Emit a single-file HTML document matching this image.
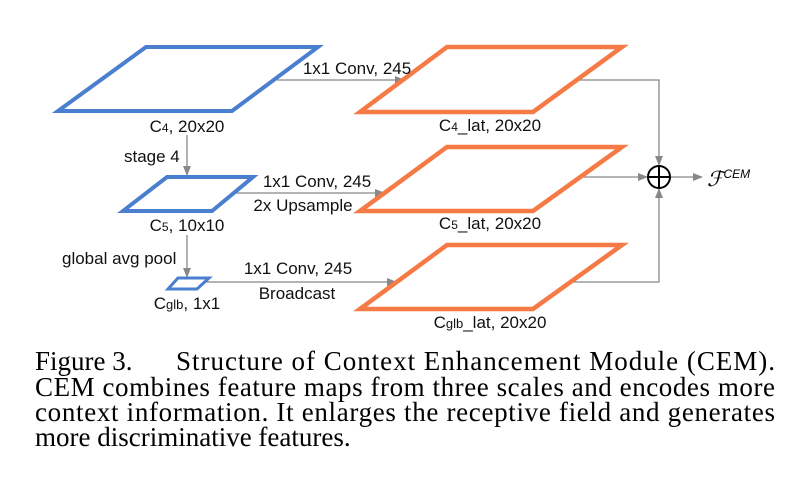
<!DOCTYPE html>
<html><head><meta charset="utf-8"><style>
html,body{margin:0;padding:0;background:#fff;width:800px;height:493px;overflow:hidden}
svg{display:block}
.s{font-family:"Liberation Sans",sans-serif;font-size:17px;fill:#111}
.c{font-family:"Liberation Serif",serif;font-size:27px;fill:#000}
</style></head><body>
<svg width="800" height="493" viewBox="0 0 800 493" xmlns="http://www.w3.org/2000/svg">
<defs><marker id="a" markerWidth="10" markerHeight="8" refX="9" refY="4" orient="auto" markerUnits="userSpaceOnUse"><path d="M0,0 L10,4 L0,8 z" fill="#888"/></marker></defs>
<g stroke="#888" stroke-width="1.3" fill="none">
<line x1="277" y1="80" x2="404" y2="80" marker-end="url(#a)"/>
<line x1="187" y1="135" x2="187" y2="175" marker-end="url(#a)"/>
<line x1="235" y1="193" x2="384" y2="193" marker-end="url(#a)"/>
<line x1="187" y1="235" x2="187" y2="277" marker-end="url(#a)"/>
<line x1="203" y1="282" x2="396" y2="282" marker-end="url(#a)"/>
<polyline points="577,80 659,80 659,165" marker-end="url(#a)"/>
<line x1="580" y1="177" x2="647" y2="177" marker-end="url(#a)"/>
<polyline points="570,282 659,282 659,189" marker-end="url(#a)"/>
<line x1="671" y1="177" x2="702" y2="177" marker-end="url(#a)"/>
</g>
<g fill="none" stroke="#4a7fd0" stroke-width="4" stroke-linejoin="miter">
<polygon points="146,47 318,47 232,111 58,111"/>
<polygon points="167,177 253,177 212,211 123,211"/>
<polygon points="178,278 209,278 197,289 168,289" stroke-width="3"/>
</g>
<g fill="none" stroke="#f57a45" stroke-width="4.5">
<polygon points="447,47 622,47 533,112 360,112"/>
<polygon points="447,147 622,147 533,211 360,211"/>
<polygon points="447,245 622,245 533,309 360,309"/>
</g>
<circle cx="659" cy="177" r="11" fill="none" stroke="#000" stroke-width="2"/>
<line x1="648" y1="177" x2="670" y2="177" stroke="#000" stroke-width="2"/>
<line x1="659" y1="166" x2="659" y2="188" stroke="#000" stroke-width="2"/>
<g class="s">
<text x="357" y="74" text-anchor="middle">1x1 Conv, 245</text>
<text x="187" y="132" text-anchor="middle">C<tspan font-size="12">4</tspan>, 20x20</text>
<text x="124" y="162">stage 4</text>
<text x="317" y="187" text-anchor="middle">1x1 Conv, 245</text>
<text x="303" y="211" text-anchor="middle">2x Upsample</text>
<text x="187" y="231" text-anchor="middle">C<tspan font-size="12">5</tspan>, 10x10</text>
<text x="62" y="264">global avg pool</text>
<text x="298" y="274" text-anchor="middle">1x1 Conv, 245</text>
<text x="297" y="299" text-anchor="middle">Broadcast</text>
<text x="187" y="309" text-anchor="middle">C<tspan font-size="13">glb</tspan>, 1x1</text>
<text x="490" y="131" text-anchor="middle">C<tspan font-size="12">4</tspan>_lat, 20x20</text>
<text x="490" y="229" text-anchor="middle">C<tspan font-size="12">5</tspan>_lat, 20x20</text>
<text x="490" y="328" text-anchor="middle">C<tspan font-size="13">glb</tspan>_lat, 20x20</text>
</g>
<text x="707" y="186" font-family="Liberation Serif,serif" font-style="italic" font-size="21">ℱ<tspan font-family="Liberation Sans,sans-serif" font-size="12" dy="-8">CEM</tspan></text>
<g class="c">
<text x="35" y="370">Figure 3.</text>
<text x="176" y="370" textLength="599" lengthAdjust="spacing">Structure of Context Enhancement Module (CEM).</text>
<text x="35" y="396" textLength="740" lengthAdjust="spacing">CEM combines feature maps from three scales and encodes more</text>
<text x="35" y="421" textLength="740" lengthAdjust="spacing">context information. It enlarges the receptive field and generates</text>
<text x="35" y="446">more discriminative features.</text>
</g>
</svg>
</body></html>
